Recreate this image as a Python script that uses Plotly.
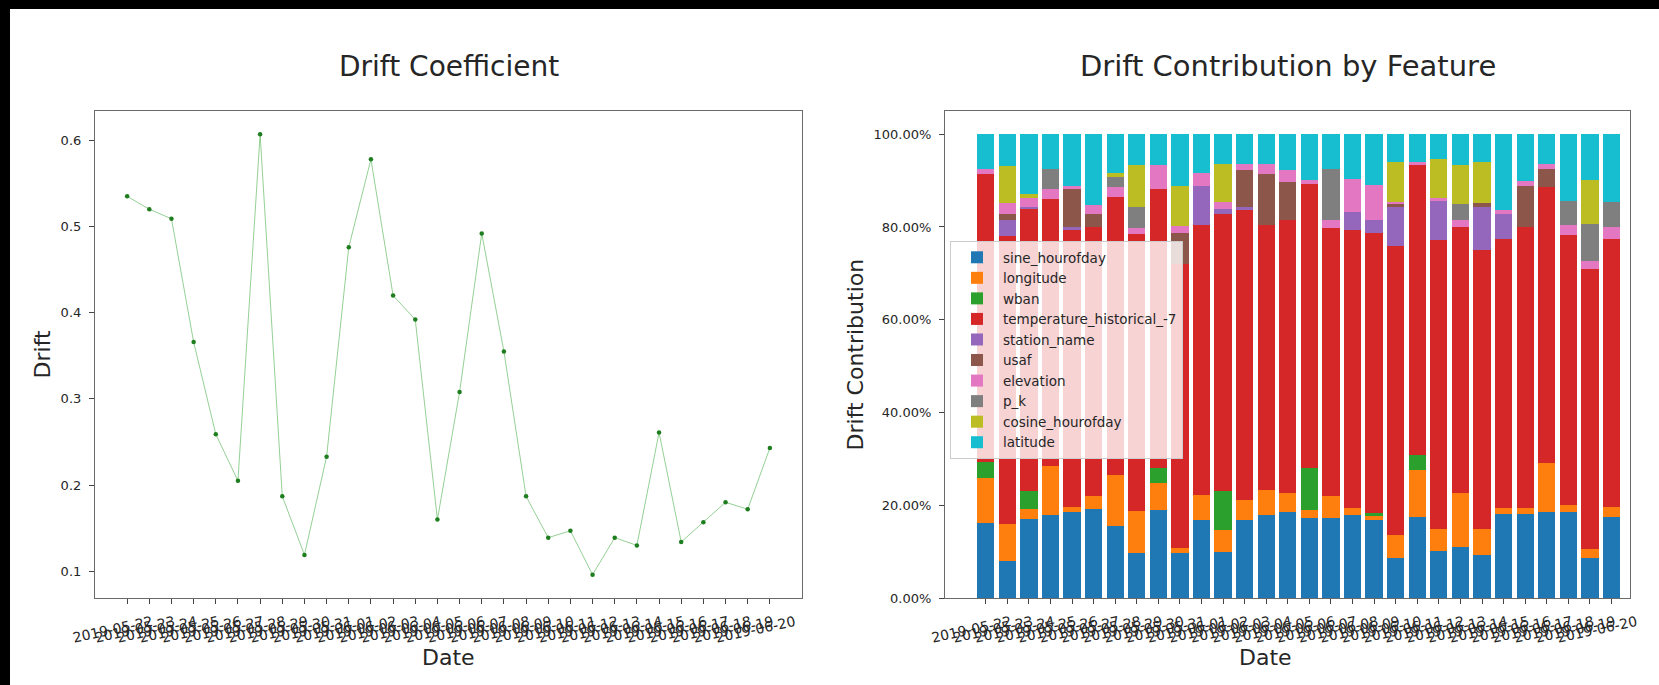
import plotly.graph_objects as go
from plotly.subplots import make_subplots

dates = ["2019-05-22", "2019-05-23", "2019-05-24", "2019-05-25", "2019-05-26", "2019-05-27",
         "2019-05-28", "2019-05-29", "2019-05-30", "2019-05-31", "2019-06-01", "2019-06-02",
         "2019-06-03", "2019-06-04", "2019-06-05", "2019-06-06", "2019-06-07", "2019-06-08",
         "2019-06-09", "2019-06-10", "2019-06-11", "2019-06-12", "2019-06-13", "2019-06-14",
         "2019-06-15", "2019-06-16", "2019-06-17", "2019-06-18", "2019-06-19", "2019-06-20"]

drift = [0.535, 0.520, 0.509, 0.366, 0.259, 0.205, 0.607, 0.187, 0.119, 0.233,
         0.476, 0.578, 0.420, 0.392, 0.160, 0.308, 0.492, 0.355, 0.187, 0.139,
         0.147, 0.096, 0.139, 0.130, 0.261, 0.134, 0.157, 0.180, 0.172, 0.243]

# contributions in percent, bottom of stack first
sine_hourofday = [16.2, 8.0, 17.1, 18.0, 18.6, 19.1, 15.5, 9.7, 18.9, 9.7, 16.8, 10.0, 16.8, 18.0, 18.6,
                  17.3, 17.3, 18.0, 16.8, 8.6, 17.4, 10.2, 11.1, 9.3, 18.2, 18.1, 18.6, 18.6, 8.6, 17.5]
longitude = [9.7, 8.0, 2.1, 10.5, 1.1, 2.8, 11.0, 9.0, 5.9, 1.1, 5.4, 4.7, 4.3, 5.2, 4.1,
             1.6, 4.6, 1.5, 0.9, 5.0, 10.2, 4.7, 11.5, 5.5, 1.1, 1.3, 10.5, 1.5, 1.9, 2.1]
wban = [3.5, 0, 3.8, 0, 0, 0, 0, 0, 3.2, 0, 0, 8.3, 0, 0, 0,
        9.2, 0, 0, 0.6, 0, 3.3, 0, 0, 0, 0, 0, 0, 0, 0, 0]
temperature_historical_7 = [62.0, 62.0, 60.8, 57.6, 59.8, 58.1, 59.9, 59.7, 60.2, 61.2, 58.3, 59.8, 62.6, 57.3, 58.7,
                            61.2, 57.9, 59.9, 60.5, 62.2, 62.4, 62.2, 57.4, 60.3, 58.1, 60.6, 59.5, 58.2, 60.5, 57.8]
station_name = [0, 3.6, 0.6, 0, 0.4, 0, 0, 0, 0, 0, 8.3, 1.0, 0.5, 0, 0,
                0, 0, 3.9, 2.7, 8.4, 0, 8.4, 0, 9.1, 5.3, 0, 0, 0, 0, 0]
usaf = [0, 1.3, 0, 0, 8.2, 2.9, 0, 0, 0, 6.8, 0, 0, 8.0, 11.0, 8.3,
        0, 0, 0, 0, 0.8, 0, 0, 0, 0.9, 0, 8.8, 3.9, 0, 0, 0]
elevation = [1.0, 2.3, 1.8, 2.1, 0.7, 1.9, 2.3, 1.3, 5.2, 1.5, 2.8, 1.6, 1.4, 2.0, 2.5,
             0.8, 1.6, 7.0, 7.5, 0.4, 0.6, 0.8, 1.4, 0, 1.0, 1.2, 1.0, 2.1, 1.7, 2.5]
p_k = [0, 0, 0, 4.3, 0, 0, 2.0, 4.5, 0, 0, 0, 0, 0, 0, 0,
       0, 11.1, 0, 0, 0, 0, 0, 3.5, 0, 0, 0, 0, 5.3, 7.9, 5.4]
cosine_hourofday = [0, 8.0, 0.9, 0, 0, 0, 0.9, 9.1, 0, 8.5, 0, 8.2, 0, 0, 0,
                    0, 0, 0, 0, 8.5, 0, 8.3, 8.5, 8.9, 0, 0, 0, 0, 9.6, 0]
latitude = [7.6, 6.8, 12.9, 7.5, 11.2, 15.2, 8.4, 6.7, 6.6, 11.2, 8.4, 6.4, 6.4, 6.5, 7.8,
            9.9, 7.5, 9.7, 11.0, 6.1, 6.1, 5.4, 6.6, 6.0, 16.3, 10.0, 6.5, 14.3, 9.8, 14.7]

features = ["sine_hourofday", "longitude", "wban", "temperature_historical_-7", "station_name",
            "usaf", "elevation", "p_k", "cosine_hourofday", "latitude"]
feature_values = [sine_hourofday, longitude, wban, temperature_historical_7, station_name,
                  usaf, elevation, p_k, cosine_hourofday, latitude]
colors = ["#1f77b4", "#ff7f0e", "#2ca02c", "#d62728", "#9467bd",
          "#8c564b", "#e377c2", "#7f7f7f", "#bcbd22", "#17becf"]

drift_ticks = [0.1, 0.2, 0.3, 0.4, 0.5, 0.6]
contrib_ticks = [0.0, 0.2, 0.4, 0.6, 0.8, 1.0]

W, H = 1659, 685
def px(x):
    return x / W
def py(y):
    return 1 - y / H

FONT = "DejaVu Sans"
TXT = "#262626"

fig = make_subplots(rows=1, cols=2)

fig.add_trace(go.Scatter(x=dates, y=drift, mode="lines+markers",
                         line=dict(color="rgba(60,170,60,0.55)", width=1),
                         marker=dict(color="#1e7d1e", size=4.5),
                         showlegend=False), row=1, col=1)

for name, vals, c in zip(features, feature_values, colors):
    fig.add_trace(go.Bar(x=dates, y=[v / 100 for v in vals], name=name, legendgroup=name,
                         marker=dict(color=c, line=dict(width=0)), width=0.8),
                  row=1, col=2)

L0, L1 = 95, 802
R0, R1 = 945, 1630
T, B = 111, 598

axis_common = dict(showline=True, mirror=True, linecolor="#6a6a6a", linewidth=1.2,
                   ticks="outside", ticklen=5, tickcolor="#444", showgrid=False, zeroline=False,
                   automargin=False)
ytick_font = dict(family=FONT, size=13, color=TXT)
xtick_font = dict(family=FONT, size=14, color=TXT)
xaxis_extra = dict(type="category", tickangle=-12, tickfont=xtick_font,
                   ticklabelstandoff=5, ticklabelshift=25)
yaxis_extra = dict(tickfont=ytick_font, ticklabelstandoff=5)

fig.update_layout(
    width=W, height=H, margin=dict(l=0, r=0, t=0, b=0, pad=0, autoexpand=False),
    paper_bgcolor="white", plot_bgcolor="white",
    barmode="stack", bargap=0.2,
    font=dict(family=FONT, color=TXT),
    xaxis=dict(domain=[px(L0), px(L1)], range=[-1.45, 30.45], **xaxis_extra, **axis_common),
    yaxis=dict(domain=[py(B), py(T)], range=[0.069, 0.634], tickvals=drift_ticks,
               ticktext=[f"{v:.1f}" for v in drift_ticks], **yaxis_extra, **axis_common),
    xaxis2=dict(domain=[px(R0), px(R1)], range=[-1.89, 29.86], **xaxis_extra, **axis_common),
    yaxis2=dict(domain=[py(B), py(T)], range=[0, 1.05], tickvals=contrib_ticks,
                tickformat=".2%", **yaxis_extra, **axis_common),
    legend=dict(x=px(950), y=py(241), xanchor="left", yanchor="top",
                bgcolor="rgba(255,255,255,0.8)", bordercolor="#cccccc", borderwidth=1,
                font=dict(family=FONT, size=13.5, color=TXT), traceorder="normal",
                tracegroupgap=3, itemwidth=42),
    showlegend=True,
)

annos = [
    dict(text="Drift Coefficient", x=px((L0 + L1) / 2), y=py(66), size=28, angle=0),
    dict(text="Drift Contribution by Feature", x=px((R0 + R1) / 2), y=py(66), size=29, angle=0),
    dict(text="Date", x=px((L0 + L1) / 2), y=py(657), size=22, angle=0),
    dict(text="Date", x=px(1265), y=py(657), size=22, angle=0),
    dict(text="Drift", x=px(42), y=py((T + B) / 2), size=22, angle=-90),
    dict(text="Drift Contribution", x=px(855), y=py((T + B) / 2), size=22, angle=-90),
]
for a in annos:
    fig.add_annotation(text=a["text"], x=a["x"], y=a["y"], xref="paper", yref="paper",
                       xanchor="center", yanchor="middle", showarrow=False, textangle=a["angle"],
                       font=dict(family=FONT, size=a["size"], color=TXT))

# dark border strips of the screenshot
fig.add_shape(type="rect", xref="paper", yref="paper", x0=0, x1=px(10), y0=0, y1=1,
              fillcolor="black", line=dict(width=0), layer="above")
fig.add_shape(type="rect", xref="paper", yref="paper", x0=0, x1=1, y0=py(9), y1=1,
              fillcolor="black", line=dict(width=0), layer="above")

fig.write_html(
    "out.html",
    config=dict(displayModeBar=False),
    post_script=("document.documentElement.style.margin='0';document.body.style.margin='0';"
                 "document.body.style.padding='0';document.documentElement.style.overflow='hidden';"
                 "document.body.style.overflow='hidden';"),
)
